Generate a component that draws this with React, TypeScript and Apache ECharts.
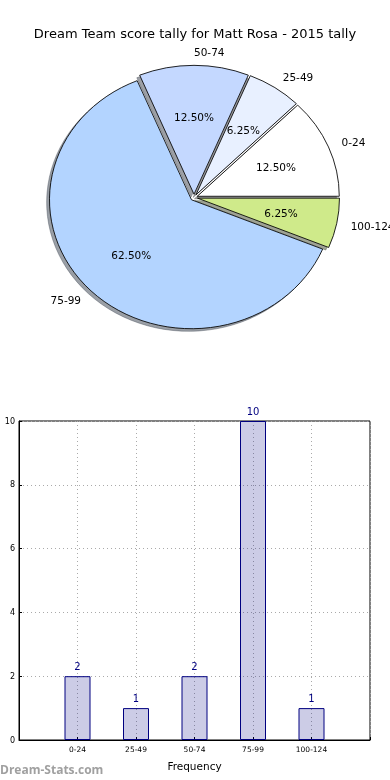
import React, { useEffect, useRef } from "react";
import * as echarts from "echarts";

const categories = ["0-24", "25-49", "50-74", "75-99", "100-124"];
const counts = [2, 1, 2, 10, 1];
const sliceColors = ["#ffffff", "#e8f0ff", "#c4d8ff", "#b3d4ff", "#cfea8a"];
const yTicks = { min: 0, max: 10, interval: 2 };
const titleText = "Dream Team score tally for Matt Rosa - 2015 tally";
const watermark = "Dream-Stats.com";
const xName = "Frequency";
const yName = "Number of Items";

const FONT = "DejaVu Sans";
const PIE = { cx: 194, cy: 197.5, rx: 142, ry: 129, explode: 0.025, shadow: 0.02 };

function darken(hex: string) {
  const n = parseInt(hex.slice(1), 16);
  const r = Math.round(((n >> 16) & 255) * 0.3);
  const g = Math.round(((n >> 8) & 255) * 0.3);
  const b = Math.round((n & 255) * 0.3);
  return `rgb(${r},${g},${b})`;
}

export default function App() {
  const ref = useRef<HTMLDivElement>(null);
  useEffect(() => {
    document.body.style.margin = "0";
    const chart = echarts.init(ref.current!, null, { renderer: "svg" });
    const bars = [null, ...counts, null].map((v) => (v === null ? "-" : v));
    const pieData = categories.map((c, i) => ({
      name: c,
      value: counts[i],
      itemStyle: { color: sliceColors[i] },
    }));
    const renderPie = (params: any, api: any) => {
      const i = params.dataIndex;
      const n = params.dataInsideLength;
      let total = 0;
      let before = 0;
      for (let j = 0; j < n; j++) {
        const v = api.value(0, j) as number;
        total += v;
        if (j < i) before += v;
      }
      const v = api.value(0) as number;
      const a0 = (2 * Math.PI * before) / total;
      const a1 = (2 * Math.PI * (before + v)) / total;
      const am = (a0 + a1) / 2;
      const { cx, cy, rx, ry, explode, shadow } = PIE;
      const k = ry / rx;
      const ex = explode * rx * Math.cos(am);
      const ey = -explode * rx * Math.sin(am);
      const color = api.visual("color") as string;
      const cosm = Math.cos(am);
      const sinm = Math.sin(am);
      const pct = ((v / total) * 100).toFixed(2) + "%";
      const name = categories[params.dataIndex];
      return {
        type: "group",
        children: [
          {
            type: "group",
            x: cx,
            y: cy,
            scaleY: k,
            children: [
              {
                type: "sector",
                z2: 0,
                shape: {
                  cx: ex - shadow * rx,
                  cy: ey + shadow * rx,
                  r0: 0,
                  r: rx,
                  startAngle: -a0,
                  endAngle: -a1,
                  clockwise: false,
                },
                style: { fill: darken(color), stroke: darken(color), lineWidth: 0.8, opacity: 0.5 },
              },
              {
                type: "sector",
                z2: 10,
                shape: {
                  cx: ex,
                  cy: ey,
                  r0: 0,
                  r: rx,
                  startAngle: -a0,
                  endAngle: -a1,
                  clockwise: false,
                },
                style: { fill: color, stroke: "#000", lineWidth: 0.9 },
              },
            ],
          },
          {
            type: "text",
            z2: 20,
            x: cx + (explode + 0.6) * rx * cosm,
            y: cy - (explode + 0.6) * ry * sinm,
            style: {
              text: pct,
              fill: "#000",
              font: `10.5px "${FONT}"`,
              align: "center",
              verticalAlign: "middle",
            },
          },
          {
            type: "text",
            z2: 20,
            x: cx + (explode + 1.1) * rx * cosm,
            y: cy - (explode + 1.1) * ry * sinm,
            style: {
              text: name,
              fill: "#000",
              font: `10.5px "${FONT}"`,
              align: cosm >= -1e-9 ? "left" : "right",
              verticalAlign: "middle",
            },
          },
        ],
      };
    };
    chart.setOption({
      animation: false,
      textStyle: { fontFamily: FONT },
      title: {
        text: titleText,
        left: "center",
        top: 22,
        textStyle: { fontFamily: FONT, fontSize: 13, fontWeight: "normal", color: "#000" },
      },
      graphic: [
        {
          type: "text",
          left: 0,
          top: 763,
          style: { text: watermark, fill: "#a0a0a0", font: `bold 12px "Open Sans"` },
        },
      ],
      grid: {
        left: 19,
        right: 20,
        top: 421,
        bottom: 40,
        outerBoundsMode: "none",
        containLabel: false,
        show: true,
        borderColor: "#000",
        borderWidth: 1,
        backgroundColor: "transparent",
      },
      xAxis: {
        type: "category",
        data: ["", ...categories, ""],
        boundaryGap: false,
        name: xName,
        nameLocation: "middle",
        nameGap: 20,
        nameTextStyle: { fontSize: 10.5, color: "#000", fontFamily: FONT },
        axisLine: { show: true, lineStyle: { color: "#000" } },
        axisTick: { show: true, inside: true, length: 3, lineStyle: { color: "#000" } },
        axisLabel: { fontSize: 7.5, color: "#000", margin: 5, fontFamily: FONT, interval: 0 },
        splitLine: { show: true, lineStyle: { type: [1, 3], color: "#aaa" } },
      },
      yAxis: {
        type: "value",
        ...yTicks,
        name: yName,
        nameLocation: "middle",
        nameGap: 18,
        nameTextStyle: { fontSize: 10.5, color: "#000", fontFamily: FONT },
        axisLine: { show: true, lineStyle: { color: "#000" } },
        axisTick: { show: true, inside: true, length: 3, lineStyle: { color: "#000" } },
        axisLabel: { fontSize: 8, color: "#000", margin: 4, fontFamily: FONT },
        splitLine: { show: true, lineStyle: { type: [1, 3], color: "#aaa" } },
      },
      series: [
        {
          type: "custom",
          coordinateSystem: "none",
          renderItem: renderPie,
          data: pieData,
          silent: true,
        },
        {
          type: "bar",
          data: bars,
          barWidth: 26,
          itemStyle: { color: "rgba(0,0,128,0.2)", borderColor: "#000080", borderWidth: 1 },
          label: { show: true, position: "top", color: "#000080", fontSize: 10, distance: 5, fontFamily: FONT },
          emphasis: { disabled: true },
        },
      ],
    });
    return () => chart.dispose();
  }, []);
  return <div ref={ref} style={{ position: "fixed", left: 0, top: 0, width: 390, height: 780 }} />;
}
